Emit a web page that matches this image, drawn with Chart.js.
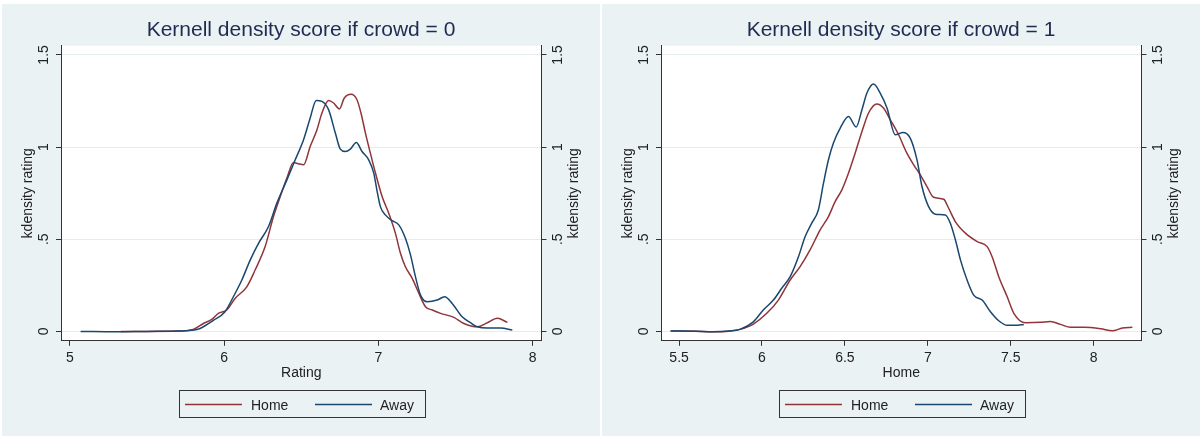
<!DOCTYPE html>
<html>
<head>
<meta charset="utf-8">
<title>Kernell density score by crowd</title>
<script src="https://cdn.jsdelivr.net/npm/chart.js@4.4.0/dist/chart.umd.min.js"></script>
<style>
    body { margin: 0; background: #ffffff; }
    canvas { position: absolute; top: 4px; background: #eaf2f3; }
    #crowd0 { left: 2px; }
    #crowd1 { left: 602px; }
</style>
</head>
<body>
<canvas id="crowd0" width="598" height="432"></canvas>
<canvas id="crowd1" width="598" height="432"></canvas>
<script>
// crowd = 0 : kernel density of rating
var c0HomeX = [5.33, 5.5, 5.7, 5.80, 5.866, 5.92, 5.963, 6.017, 6.071, 6.147, 6.201, 6.266, 6.32, 6.364, 6.407, 6.45, 6.48, 6.515, 6.558, 6.602, 6.634, 6.677, 6.71, 6.747, 6.779, 6.823, 6.861, 6.887, 6.916, 6.948, 6.981, 7.024, 7.067, 7.11, 7.143, 7.175, 7.219, 7.262, 7.305, 7.349, 7.403, 7.489, 7.554, 7.641, 7.706, 7.771, 7.836];
var c0HomeY = [0, 0, 0.002, 0.011, 0.043, 0.065, 0.098, 0.116, 0.179, 0.242, 0.333, 0.46, 0.623, 0.732, 0.832, 0.916, 0.91, 0.904, 1.003, 1.094, 1.185, 1.253, 1.239, 1.207, 1.266, 1.286, 1.257, 1.185, 1.076, 0.967, 0.859, 0.732, 0.641, 0.533, 0.424, 0.351, 0.288, 0.207, 0.134, 0.116, 0.098, 0.076, 0.043, 0.025, 0.047, 0.071, 0.049];
var c0AwayX = [5.07, 5.3, 5.5, 5.714, 5.79, 5.844, 5.93, 6.006, 6.06, 6.115, 6.169, 6.223, 6.288, 6.342, 6.407, 6.461, 6.515, 6.558, 6.597, 6.634, 6.677, 6.721, 6.753, 6.786, 6.818, 6.857, 6.894, 6.937, 6.97, 6.99, 7.013, 7.045, 7.089, 7.132, 7.175, 7.208, 7.24, 7.273, 7.316, 7.381, 7.429, 7.478, 7.543, 7.597, 7.641, 7.706, 7.792, 7.868];
var c0AwayY = [0, -0.002, 0, 0.002, 0.006, 0.016, 0.06, 0.107, 0.188, 0.279, 0.387, 0.478, 0.569, 0.696, 0.822, 0.931, 1.04, 1.158, 1.253, 1.248, 1.203, 1.076, 0.989, 0.976, 0.989, 1.025, 0.976, 0.931, 0.859, 0.768, 0.677, 0.632, 0.601, 0.578, 0.505, 0.415, 0.297, 0.197, 0.161, 0.170, 0.188, 0.152, 0.079, 0.047, 0.025, 0.018, 0.018, 0.007];

// crowd = 1
var c1HomeX = [5.449, 5.6, 5.7, 5.8, 5.867, 5.948, 6.029, 6.099, 6.17, 6.23, 6.29, 6.351, 6.401, 6.441, 6.482, 6.522, 6.562, 6.603, 6.643, 6.693, 6.733, 6.774, 6.824, 6.874, 6.915, 6.955, 6.995, 7.035, 7.096, 7.126, 7.166, 7.227, 7.298, 7.358, 7.388, 7.428, 7.479, 7.519, 7.589, 7.68, 7.74, 7.801, 7.861, 7.942, 8.043, 8.113, 8.174, 8.234];
var c1HomeY = [0.002, 0.001, -0.002, 0.001, 0.011, 0.040, 0.098, 0.170, 0.279, 0.351, 0.442, 0.551, 0.623, 0.704, 0.768, 0.859, 0.967, 1.085, 1.185, 1.234, 1.212, 1.148, 1.067, 0.967, 0.904, 0.849, 0.786, 0.728, 0.717, 0.668, 0.596, 0.533, 0.487, 0.46, 0.405, 0.297, 0.188, 0.098, 0.047, 0.049, 0.054, 0.038, 0.022, 0.022, 0.014, 0.003, 0.018, 0.022];
var c1AwayX = [5.449, 5.6, 5.7, 5.8, 5.867, 5.948, 6.008, 6.069, 6.119, 6.17, 6.22, 6.26, 6.30, 6.34, 6.371, 6.401, 6.431, 6.472, 6.522, 6.568, 6.603, 6.633, 6.673, 6.713, 6.754, 6.804, 6.85, 6.894, 6.935, 6.965, 7.005, 7.046, 7.106, 7.136, 7.167, 7.197, 7.237, 7.277, 7.328, 7.378, 7.428, 7.479, 7.529, 7.579];
var c1AwayY = [0.002, 0.001, -0.002, 0.002, 0.011, 0.052, 0.116, 0.170, 0.234, 0.297, 0.405, 0.514, 0.587, 0.659, 0.804, 0.931, 1.022, 1.103, 1.166, 1.109, 1.203, 1.293, 1.342, 1.293, 1.212, 1.067, 1.079, 1.049, 0.931, 0.786, 0.677, 0.636, 0.632, 0.587, 0.496, 0.388, 0.279, 0.197, 0.170, 0.107, 0.058, 0.033, 0.033, 0.038];

// axes and labels
var c0XTicks = [5, 6, 7, 8];
var c0XLabels = ['5', '6', '7', '8'];
var c1XTicks = [5.5, 6, 6.5, 7, 7.5, 8];
var c1XLabels = ['5.5', '6', '6.5', '7', '7.5', '8'];
var yTicks = [0, 0.5, 1, 1.5];
var yTickLabels = ['0', '.5', '1', '1.5'];
var seriesNames = ['Home', 'Away'];
var yTitle = 'kdensity rating';

var fontFamily = '"Liberation Sans", Arial, sans-serif';
var homeColor = '#90353b';
var awayColor = '#1a476f';
var inkColor = '#222222';
var axisColor = '#333333';

Chart.defaults.font.family = fontFamily;

// text written bottom-to-top, like the Stata y axes
function drawUp(ctx, text, x, y) {
    ctx.save();
    ctx.translate(x, y);
    ctx.rotate(-Math.PI / 2);
    ctx.fillText(text, 0, 0);
    ctx.restore();
}

// white plot region, rotated y labels on both sides and the boxed legend
var stataLook = {
    id: 'stataLook',
    beforeDraw: function (chart) {
        var a = chart.chartArea;
        var ctx = chart.ctx;
        ctx.save();
        ctx.fillStyle = '#ffffff';
        ctx.fillRect(a.left, a.top, a.right - a.left, a.bottom - a.top);
        ctx.restore();
    },
    afterDraw: function (chart) {
        var ctx = chart.ctx;
        var a = chart.chartArea;
        var yScale = chart.scales.y;

        ctx.save();
        ctx.fillStyle = inkColor;
        ctx.font = '14px ' + fontFamily;
        ctx.textAlign = 'center';
        ctx.textBaseline = 'middle';
        yTicks.forEach(function (v, i) {
            var py = yScale.getPixelForValue(v);
            drawUp(ctx, yTickLabels[i], a.left - 17, py);
            drawUp(ctx, yTickLabels[i], a.right + 17, py);
        });
        var midY = (a.top + a.bottom) / 2;
        drawUp(ctx, yTitle, a.left - 33, midY);
        drawUp(ctx, yTitle, a.right + 33, midY);

        // legend box
        var cx = chart.width / 2;
        var top = chart.height - 45.5;
        var bottom = chart.height - 18.5;
        ctx.strokeStyle = axisColor;
        ctx.lineWidth = 1;
        ctx.strokeRect(Math.round(cx - 122.5) + 0.5, top, 246, bottom - top);

        var lineY = top + 14;
        ctx.lineWidth = 1.5;
        ctx.strokeStyle = homeColor;
        ctx.beginPath();
        ctx.moveTo(cx - 116, lineY);
        ctx.lineTo(cx - 59, lineY);
        ctx.stroke();
        ctx.strokeStyle = awayColor;
        ctx.beginPath();
        ctx.moveTo(cx + 14, lineY);
        ctx.lineTo(cx + 71, lineY);
        ctx.stroke();

        ctx.fillStyle = inkColor;
        ctx.textAlign = 'left';
        ctx.textBaseline = 'alphabetic';
        ctx.fillText(seriesNames[0], cx - 50, top + 19.5);
        ctx.fillText(seriesNames[1], cx + 79, top + 19.5);
        ctx.restore();
    }
};

function toPoints(xs, ys) {
    return xs.map(function (x, i) { return { x: x, y: ys[i] }; });
}

function makePanel(canvasId, titleText, xTitle, xMin, xMax, xTicks, xLabels, homeX, homeY, awayX, awayY) {
    var yScaleBase = {
        min: -0.051,
        max: 1.55,
        afterBuildTicks: function (scale) {
            scale.ticks = yTicks.map(function (v) { return { value: v }; });
        },
        border: { display: true, color: axisColor, width: 1 },
        ticks: { display: false }
    };

    var config = {
        type: 'line',
        data: {
            datasets: [
                {
                    label: seriesNames[0],
                    data: toPoints(homeX, homeY),
                    borderColor: homeColor,
                    borderWidth: 1.5,
                    pointRadius: 0,
                    fill: false,
                    cubicInterpolationMode: 'monotone',
                    order: 2
                },
                {
                    label: seriesNames[1],
                    data: toPoints(awayX, awayY),
                    borderColor: awayColor,
                    borderWidth: 1.5,
                    pointRadius: 0,
                    fill: false,
                    cubicInterpolationMode: 'monotone',
                    order: 1
                }
            ]
        },
        options: {
            responsive: false,
            animation: false,
            devicePixelRatio: 1,
            layout: { padding: { left: 0, right: 0, top: 0, bottom: 54 } },
            plugins: {
                legend: { display: false },
                tooltip: { enabled: false },
                title: {
                    display: true,
                    text: titleText,
                    color: '#1f2b52',
                    font: { size: 21, weight: 'normal' },
                    padding: { top: 13.8, bottom: 2.7 }
                }
            },
            scales: {
                x: {
                    type: 'linear',
                    min: xMin,
                    max: xMax,
                    afterBuildTicks: function (scale) {
                        scale.ticks = xTicks.map(function (v) { return { value: v }; });
                    },
                    afterFit: function (scale) { scale.height = 41.2; },
                    grid: { drawOnChartArea: false, drawTicks: true, tickLength: 5, tickColor: axisColor },
                    border: { display: true, color: axisColor, width: 1 },
                    ticks: {
                        padding: 4,
                        color: inkColor,
                        font: { size: 14 },
                        autoSkip: false,
                        maxRotation: 0,
                        callback: function (value, index) { return xLabels[index]; }
                    },
                    title: { display: true, text: xTitle, color: inkColor, font: { size: 14 }, padding: 0 }
                },
                y: Object.assign({}, yScaleBase, {
                    position: 'left',
                    afterFit: function (scale) { scale.width = 59; },
                    grid: { color: '#e4ecee', lineWidth: 1, drawTicks: true, tickLength: 5, tickColor: axisColor }
                }),
                y2: Object.assign({}, yScaleBase, {
                    position: 'right',
                    afterFit: function (scale) { scale.width = 58.5; },
                    grid: { drawOnChartArea: false, drawTicks: true, tickLength: 5, tickColor: axisColor }
                })
            }
        },
        plugins: [stataLook]
    };

    return new Chart(document.getElementById(canvasId), config);
}

makePanel('crowd0', 'Kernell density score if crowd = 0', 'Rating', 4.943, 8.057,
    c0XTicks, c0XLabels, c0HomeX, c0HomeY, c0AwayX, c0AwayY);
makePanel('crowd1', 'Kernell density score if crowd = 1', 'Home', 5.391, 8.289,
    c1XTicks, c1XLabels, c1HomeX, c1HomeY, c1AwayX, c1AwayY);
</script>
</body>
</html>
